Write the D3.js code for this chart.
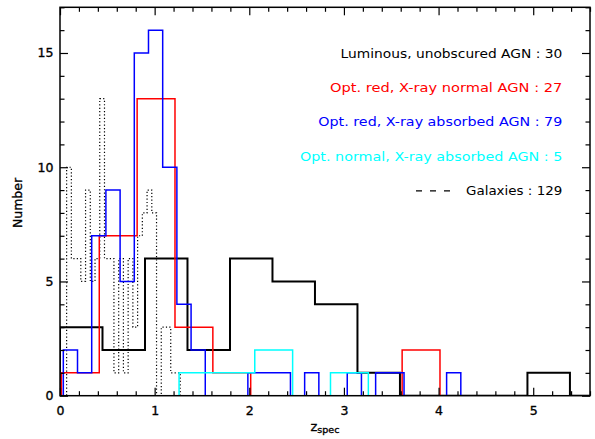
<!DOCTYPE html>
<html>
<head>
<meta charset="utf-8">
<script src="https://cdn.jsdelivr.net/npm/d3@7/dist/d3.min.js"></script>
<style>
  html, body { margin: 0; padding: 0; background: #fff; }
  svg { display: block; }
  text { font-family: "DejaVu Sans", "Liberation Sans", sans-serif; }
</style>
</head>
<body>
<script>
// Redshift histograms of the X-ray source classes.
// Each class: first bin edge, bin width, counts per bin.
const lumStart = 0.0,   lumWidth = 0.449;
const lumCounts = [3, 2, 6, 2, 6, 5, 4, 1, 0, 0, 0, 1];

const redStart = 0.015, redWidth = 0.4;
const redCounts = [1, 7, 13, 3, 1, 0, 0, 0, 0, 2];

const absStart = 0.035, absWidth = 0.15;
const absCounts = [2, 1, 7, 9, 5, 15, 16, 10, 4, 2, 0, 0, 0, 1, 1, 1, 0, 1, 0, 0, 1, 0, 1, 1, 0, 0, 0, 1];

const cyanStart = 1.258, cyanWidth = 0.4;
const cyanCounts = [1, 1, 2, 0, 1];

const galStart = 0.07, galWidth = 0.05;
const galCounts = [10, 6, 6, 5, 9, 5, 6, 13, 6, 6, 1, 6, 1, 6, 3, 7, 8, 9, 8, 0, 3, 3, 1, 1];

const legendLabels = [
  "Luminous, unobscured AGN",
  "Opt. red, X-ray normal AGN",
  "Opt. red, X-ray absorbed AGN",
  "Opt. normal, X-ray absorbed AGN",
  "Galaxies"
];

const xMajorTicks = [0, 1, 2, 3, 4, 5];
const yMajorTicks = [0, 5, 10, 15];

const W = 595, H = 439;
const plotL = 60, plotR = 590, plotT = 7.3, plotB = 395.7;

const svg = d3.select("body").append("svg")
  .attr("width", W).attr("height", H);

const x = d3.scaleLinear().domain([0, 5.6]).range([plotL, plotR]);
const y = d3.scaleLinear().domain([0, 17]).range([plotB, plotT]);

svg.append("defs").append("clipPath").attr("id", "plotclip")
  .append("rect").attr("x", plotL).attr("y", plotT - 2)
  .attr("width", plotR - plotL).attr("height", plotB - plotT + 2);

const sum = a => a.reduce((s, v) => s + v, 0);

function stepPoints(start, width, counts) {
  const pts = [[0, 0]];
  counts.forEach((c, i) => pts.push([start + i * width, c]));
  pts.push([start + counts.length * width, 0]);
  pts.push([5.6, 0]);
  return pts;
}

const line = d3.line()
  .x(d => x(d[0])).y(d => y(d[1]))
  .curve(d3.curveStepAfter);

const plot = svg.append("g").attr("clip-path", "url(#plotclip)");

// galaxies: dotted
plot.append("path")
  .attr("d", line(stepPoints(galStart, galWidth, galCounts)))
  .attr("fill", "none").attr("stroke", "#000")
  .attr("stroke-width", 1.2).attr("stroke-dasharray", "1.2 2.2");

const series = [
  { start: lumStart,  width: lumWidth,  counts: lumCounts,  color: "#000000", sw: 2 },
  { start: redStart,  width: redWidth,  counts: redCounts,  color: "#ff0000", sw: 1.5 },
  { start: absStart,  width: absWidth,  counts: absCounts,  color: "#0000ff", sw: 1.5 },
  { start: cyanStart, width: cyanWidth, counts: cyanCounts, color: "#00ffff", sw: 1.5 }
];

series.forEach(s => {
  plot.append("path")
    .attr("d", line(stepPoints(s.start, s.width, s.counts)))
    .attr("fill", "none").attr("stroke", s.color)
    .attr("stroke-width", s.sw).attr("stroke-linejoin", "miter");
});

// axes: inward ticks on all four sides
const xMinor = d3.range(0, 5.61, 0.2).filter(v => Math.abs(v - Math.round(v)) > 1e-6);
const yMinor = d3.range(0, 17.01, 1).filter(v => v % 5 !== 0);

function styleAxis(g) {
  g.select(".domain").remove();
  g.selectAll(".tick line").attr("stroke", "#000").attr("stroke-width", 1.2);
  g.selectAll(".tick text").attr("fill", "#000")
    .attr("stroke", "#000").attr("stroke-width", 0.35)
    .style("font-size", "12.5px").style("font-family", "DejaVu Sans, sans-serif");
}

svg.append("g").attr("transform", `translate(0,${plotB})`)
  .call(d3.axisBottom(x).tickValues(xMajorTicks).tickSize(-8).tickPadding(10.5).tickFormat(d3.format("d")))
  .call(styleAxis);
svg.append("g").attr("transform", `translate(0,${plotB})`)
  .call(d3.axisBottom(x).tickValues(xMinor).tickSize(-4.5).tickFormat(""))
  .call(styleAxis);
svg.append("g").attr("transform", `translate(0,${plotT})`)
  .call(d3.axisTop(x).tickValues(xMajorTicks).tickSize(-8).tickFormat(""))
  .call(styleAxis);
svg.append("g").attr("transform", `translate(0,${plotT})`)
  .call(d3.axisTop(x).tickValues(xMinor).tickSize(-4.5).tickFormat(""))
  .call(styleAxis);

svg.append("g").attr("transform", `translate(${plotL},0)`)
  .call(d3.axisLeft(y).tickValues(yMajorTicks).tickSize(-8).tickPadding(6.5).tickFormat(d3.format("d")))
  .call(styleAxis);
svg.append("g").attr("transform", `translate(${plotL},0)`)
  .call(d3.axisLeft(y).tickValues(yMinor).tickSize(-4.5).tickFormat(""))
  .call(styleAxis);
svg.append("g").attr("transform", `translate(${plotR},0)`)
  .call(d3.axisRight(y).tickValues(yMajorTicks).tickSize(-8).tickFormat(""))
  .call(styleAxis);
svg.append("g").attr("transform", `translate(${plotR},0)`)
  .call(d3.axisRight(y).tickValues(yMinor).tickSize(-4.5).tickFormat(""))
  .call(styleAxis);

// frame
svg.append("rect")
  .attr("x", plotL).attr("y", plotT)
  .attr("width", plotR - plotL).attr("height", plotB - plotT)
  .attr("fill", "none").attr("stroke", "#000").attr("stroke-width", 1.5);

// axis titles
svg.append("text")
  .attr("transform", "translate(22,203) rotate(-90)")
  .attr("text-anchor", "middle")
  .attr("stroke", "#000").attr("stroke-width", 0.35)
  .style("font-size", "12.5px").attr("fill", "#000")
  .text("Number");

const xt = svg.append("text").attr("x", 310.5).attr("y", 430.5)
  .attr("stroke", "#000").attr("stroke-width", 0.35)
  .style("font-size", "13px").attr("fill", "#000");
xt.append("tspan").text("z");
xt.append("tspan").attr("dy", 2.5).style("font-size", "9.5px").text("spec");

// legend
const legendRight = 562.3;
const legendItems = [
  { label: legendLabels[0], n: sum(lumCounts),  color: "#000000", w: 221.7 },
  { label: legendLabels[1], n: sum(redCounts),  color: "#ff0000", w: 232.3 },
  { label: legendLabels[2], n: sum(absCounts),  color: "#0000ff", w: 244.0 },
  { label: legendLabels[3], n: sum(cyanCounts), color: "#00ffff", w: 262.3 },
  { label: legendLabels[4], n: sum(galCounts),  color: "#000000", w: 96.3 }
];
legendItems.forEach((d, i) => {
  const by = 58 + i * 34.2;
  svg.append("text")
    .attr("x", legendRight - d.w).attr("y", by)
    .attr("textLength", d.w).attr("lengthAdjust", "spacingAndGlyphs")
    .style("font-size", "12.5px").attr("fill", d.color)
    .text(`${d.label} : ${d.n}`);
});
// dashed sample for the galaxies entry
svg.append("line")
  .attr("x1", 416).attr("x2", 457)
  .attr("y1", 58 + 4 * 34.2 - 4).attr("y2", 58 + 4 * 34.2 - 4)
  .attr("stroke", "#000").attr("stroke-width", 1.2)
  .attr("stroke-dasharray", "6 8");
</script>
</body>
</html>
